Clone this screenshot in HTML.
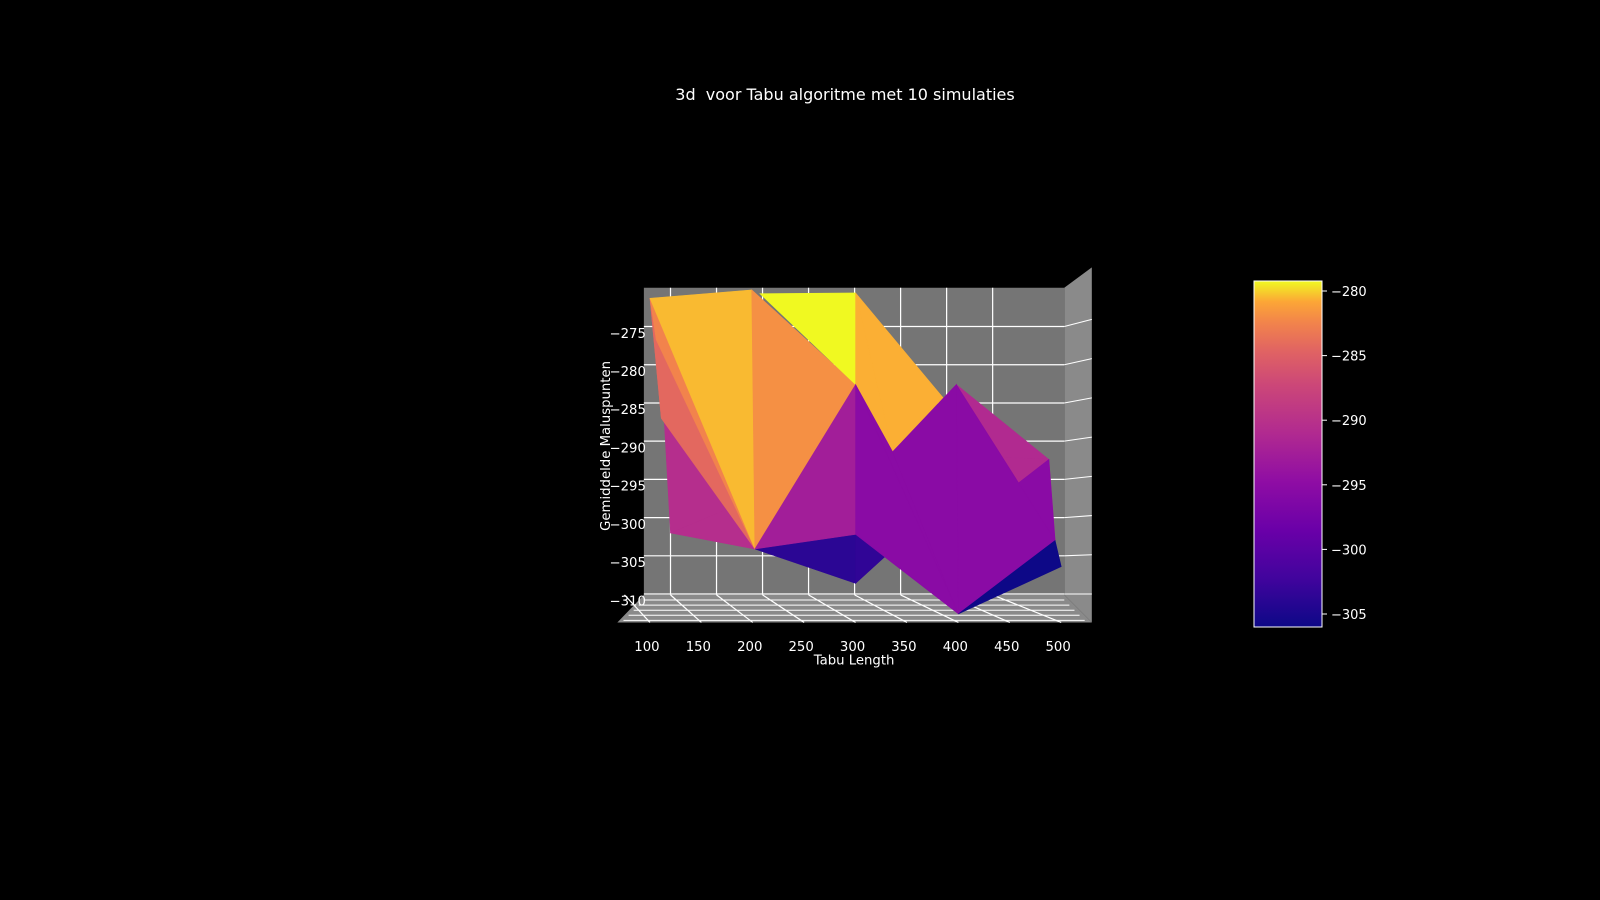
<!DOCTYPE html>
<html><head><meta charset="utf-8"><style>
html,body{margin:0;padding:0;background:#000;}
svg{display:block;font-family:"DejaVu Sans","Liberation Sans",sans-serif;}
</style></head><body>
<svg id="chart" width="1600" height="900" viewBox="0 0 1600 900">
<defs>
<linearGradient id="plasma" x1="0" y1="1" x2="0" y2="0">
<stop offset="0" stop-color="#0d0887"/><stop offset="0.14" stop-color="#41049d"/><stop offset="0.28" stop-color="#6a00a8"/><stop offset="0.42" stop-color="#8f0da4"/><stop offset="0.56" stop-color="#b12a90"/><stop offset="0.7" stop-color="#cc4778"/><stop offset="0.8" stop-color="#e16462"/><stop offset="0.88" stop-color="#f2844b"/><stop offset="0.94" stop-color="#fca636"/><stop offset="1" stop-color="#f0f921"/>
</linearGradient>
</defs>
<text x="845" y="100" fill="#fff" font-size="16" text-anchor="middle" xml:space="preserve">3d  voor Tabu algoritme met 10 simulaties</text>
<g transform="scale(1.0204)">
<rect x="631" y="282" width="412" height="301" fill="#757575"/>
<polygon points="1043,282 1070,262 1070,610 1043,583" fill="#8a8a8a"/>
<polygon points="631,583 1043,583 1070,610 605,610" fill="#8a8a8a"/>
<g id="grid"></g>
<g id="surface"></g>
<g id="axes"></g>
<text x="837" y="651" fill="#fff" font-size="13" text-anchor="middle">Tabu Length</text>
<text transform="translate(598,437) rotate(-90)" fill="#fff" font-size="13" text-anchor="middle">Gemiddelde Maluspunten</text>
</g>
<rect x="1254" y="281" width="68" height="346" fill="url(#plasma)" stroke="#fff" stroke-width="1"/>
<g id="cbticks"></g>
</svg>
<script>
// tick data
const xTicks=[100,150,200,250,300,350,400,450,500];
const zTicks=[-275,-280,-285,-290,-295,-300,-305,-310];
const cbTicks=[-280,-285,-290,-295,-300,-305];
// surface vertices (tabu length, mean malus)
const vx=[100,199,207,300,300,202,300,300,398,400,494,500,488,106,111,120,180,112,385,336,335,458];
const vz=[-270.5,-269.4,-269.9,-269.8,-281.8,-303.3,-301.4,-307.8,-281.8,-311.8,-302.2,-305.6,-291.6,-275.9,-286.2,-301.2,-297.8,-282,-283.5,-290.6,-303.5,-294.7];
// triangles (vertex indices) and their mean values for colour
const tris=[[17,15,5],[16,15,5],[0,13,14],[14,5,0],[0,5,13],[0,1,5],[1,4,5],[2,3,4],[3,18,19],[3,19,4],[19,8,12],[12,10,19],[12,10,21],[5,6,7],[6,20,7],[5,4,6],[4,19,9],[4,9,6],[19,8,9],[8,10,9],[9,10,11]];
const triVals=[-290.3,-290.3,-284.3,-284.3,-282.5,-280.5,-281.9,-279.3,-280.7,-280.7,-290.8,-290.8,-295,-303.4,-303,-292.4,-295,-295,-295,-295,-305.5];
const NS='http://www.w3.org/2000/svg';
function sx(x){return 637+(x-100)*1.0075;}
function sz(z){return 326-(z+275)*7.49;}
function cbY(v){return 285-(v+280)*12.92;}
const stops=[[0,[13,8,135]],[0.14,[65,4,157]],[0.28,[106,0,168]],[0.42,[143,13,164]],[0.56,[177,42,144]],[0.7,[204,71,120]],[0.8,[225,100,98]],[0.88,[242,132,75]],[0.94,[252,166,54]],[1,[240,249,33]]];
function plasma(v){let t=(v+305.5)/(305.5-279.3);t=Math.max(0,Math.min(1,t));
 for(let i=1;i<stops.length;i++){if(t<=stops[i][0]){const a=stops[i-1],b=stops[i];const f=(t-a[0])/(b[0]-a[0]);
 return 'rgb('+a[1].map((c,k)=>Math.round(c+(b[1][k]-c)*f)).join(',')+')';}}return 'rgb(240,249,33)';}
const grid=document.getElementById('grid');
function line(g,x1,y1,x2,y2,w,c){const l=document.createElementNS(NS,'line');l.setAttribute('x1',x1);l.setAttribute('y1',y1);l.setAttribute('x2',x2);l.setAttribute('y2',y2);l.setAttribute('stroke',c||'#fff');l.setAttribute('stroke-width',w||1);g.appendChild(l);return l;}
for(let i=0;i<9;i++){const bx=612+i*45.1;if(bx>632&&bx<1042){const l=line(grid,bx,282,bx,583,1.2);}
 const fx=sx(xTicks[i]);const l2=line(grid,612+i*45.1,583,fx,610,1.2);}
zTicks.forEach(t=>{const y=sz(t)-6;const l=line(grid,631,y,1043,y,1.2);
 const l2=line(grid,1043,y,1070,y-8*(1-(y-282)/300),1);});
for(let k=0;k<5;k++){const y=588+k*5;const l=line(grid,631-k*5,y,1043+k*5,y,1);}
const surf=document.getElementById('surface');
tris.forEach((tr,i)=>{const p=document.createElementNS(NS,'polygon');
 p.setAttribute('points',tr.map(k=>sx(vx[k]).toFixed(1)+','+sz(vz[k]).toFixed(1)).join(' '));
 const c=plasma(triVals[i]);p.setAttribute('fill',c);p.setAttribute('stroke',c);p.setAttribute('stroke-width','0.6');
 
 
 surf.appendChild(p);});
const axes=document.getElementById('axes');
function txt(g,x,y,s,anchor,size){const t=document.createElementNS(NS,'text');t.setAttribute('x',x);t.setAttribute('y',y);t.setAttribute('fill','#fff');t.setAttribute('font-size',size||13);t.setAttribute('text-anchor',anchor);t.textContent=s;g.appendChild(t);return t;}
xTicks.forEach(t=>{const e=txt(axes,sx(t)-3,638,String(t),'middle');});
zTicks.forEach(t=>{const e=txt(axes,633,sz(t)+5,'\u2212'+Math.abs(t),'end');});
const cb=document.getElementById('cbticks');
cbTicks.forEach(t=>{const y=cbY(t)+6;const l=line(cb,1322,y,1327,y,1);
 const e=txt(cb,1331,y+5,'\u2212'+Math.abs(t),'start');});
</script>
</body></html>
